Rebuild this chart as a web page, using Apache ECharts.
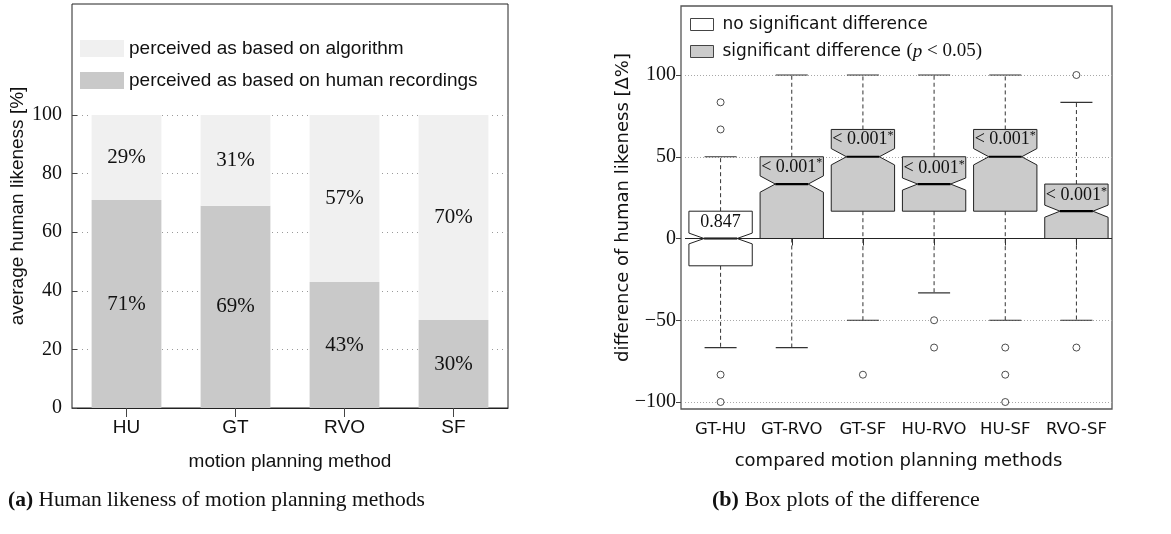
<!DOCTYPE html>
<html>
<head>
<meta charset="utf-8">
<script src="https://cdn.jsdelivr.net/npm/echarts@6/dist/echarts.min.js"></script>
<style>
  html, body { margin: 0; padding: 0; background: #fff; }
  #chart { width: 1171px; height: 534px; }
</style>
</head>
<body>
<div id="chart"></div>
<script>
// Panel (a): share of answers per motion planning method [%]
const methods = ['HU', 'GT', 'RVO', 'SF'];
const humanShare = [71, 69, 43, 30];
const algorithmShare = [29, 31, 57, 70];

// Panel (b): pairwise difference of human likeness [Δ%], box plot statistics
const pairs = ['GT-HU', 'GT-RVO', 'GT-SF', 'HU-RVO', 'HU-SF', 'RVO-SF'];
const whiskerLow = [-66.7, -66.7, -50, -33.3, -50, -50];
const lowerQuartile = [-16.7, 0, 16.7, 16.7, 16.7, 0];
const medians = [0, 33.3, 50, 33.3, 50, 16.7];
const upperQuartile = [16.7, 50, 66.7, 50, 66.7, 33.3];
const whiskerHigh = [50, 100, 100, 100, 100, 83.3];
const notchLow = [-3.3, 28.3, 45, 29.6, 45, 13];
const notchHigh = [3.3, 38.3, 55, 37, 55, 20.4];
const pValues = ['0.847', '< 0.001*', '< 0.001*', '< 0.001*', '< 0.001*', '< 0.001*'];
const significant = [false, true, true, true, true, true];
const outliers = [
  [0, 83.3], [0, 66.7], [0, -83.3], [0, -100],
  [2, -83.3],
  [3, -50], [3, -66.7],
  [4, -66.7], [4, -83.3], [4, -100],
  [5, 100], [5, -66.7]
];

const NAME_ALGO = 'perceived as based on algorithm';
const NAME_HUMAN = 'perceived as based on human recordings';
const NAME_NS = 'no significant difference';
const NAME_SIG = 'significant difference (p < 0.05)';

const SANS_A = 'Liberation Sans';
const SANS_B = 'DejaVu Sans';
const SERIF = 'Liberation Serif';
const INK = '#111';

function boxRows(flag) {
  const rows = [];
  pairs.forEach((p, i) => {
    if (significant[i] === flag) {
      rows.push([i, whiskerLow[i], lowerQuartile[i], medians[i], upperQuartile[i],
                 whiskerHigh[i], notchLow[i], notchHigh[i]]);
    }
  });
  return rows;
}

// Notched box with dashed whiskers and the p-value printed in the upper part
function renderBox(params, api) {
  const i = api.value(0);
  const x = api.coord([i, 0])[0];
  const band = api.size([1, 0])[0];
  const half = band * 0.445;
  const inset = half * 0.48;
  const capHalf = band * 0.225;
  const y = v => api.coord([i, v])[1];
  const yWl = y(api.value(1)), yQ1 = y(api.value(2)), yMed = y(api.value(3));
  const yQ3 = y(api.value(4)), yWh = y(api.value(5));
  const yNl = y(api.value(6)), yNh = y(api.value(7));
  const L = x - half, R = x + half;
  const fill = significant[i] ? '#cbcbcb' : '#ffffff';
  const dash = { stroke: '#333', lineWidth: 1, lineDash: [4, 3] };
  const solid = { stroke: '#333', lineWidth: 1.2 };
  const label = pValues[i];
  const star = label.endsWith('*');
  const txt = star ? '{m|' + label.slice(0, -1) + '}{s|*}' : '{m|' + label + '}';
  return {
    type: 'group',
    children: [
      { type: 'line', shape: { x1: x, y1: yQ3, x2: x, y2: yWh }, style: dash },
      { type: 'line', shape: { x1: x, y1: yQ1, x2: x, y2: yWl }, style: dash },
      { type: 'line', shape: { x1: x - capHalf, y1: yWh, x2: x + capHalf, y2: yWh }, style: solid },
      { type: 'line', shape: { x1: x - capHalf, y1: yWl, x2: x + capHalf, y2: yWl }, style: solid },
      {
        type: 'polygon',
        shape: { points: [
          [L, yQ3], [R, yQ3], [R, yNh], [R - inset, yMed], [R, yNl], [R, yQ1],
          [L, yQ1], [L, yNl], [L + inset, yMed], [L, yNh]
        ] },
        style: { fill: fill, stroke: '#222', lineWidth: 1 }
      },
      { type: 'line', shape: { x1: L + inset, y1: yMed, x2: R - inset, y2: yMed },
        style: { stroke: '#000', lineWidth: 2.2 } },
      {
        type: 'text',
        x: x, y: (yQ3 + yNh) / 2 + 0.5,
        style: {
          text: txt, align: 'center', verticalAlign: 'middle',
          rich: {
            m: { fontFamily: SERIF, fontSize: 18, fill: INK },
            s: { fontFamily: SERIF, fontSize: 12, fill: INK, verticalAlign: 'top', padding: [0, 0, 7, 0] }
          }
        }
      }
    ]
  };
}

const chart = echarts.init(document.getElementById('chart'), null, { renderer: 'canvas' });

chart.setOption({
  animation: false,
  backgroundColor: '#fff',
  title: [
    {
      text: '{b|(a)} Human likeness of motion planning methods',
      left: 3, top: 484,
      textStyle: {
        fontFamily: SERIF, fontSize: 21.5, fontWeight: 'normal', color: INK,
        rich: { b: { fontFamily: SERIF, fontSize: 21.5, fontWeight: 'bold', color: INK } }
      }
    },
    {
      text: '{b|(b)} Box plots of the difference',
      left: 707, top: 484,
      textStyle: {
        fontFamily: SERIF, fontSize: 22, fontWeight: 'normal', color: INK,
        rich: { b: { fontFamily: SERIF, fontSize: 22, fontWeight: 'bold', color: INK } }
      }
    }
  ],
  legend: [
    {
      orient: 'vertical', left: 75, top: 34,
      icon: 'rect', itemWidth: 44, itemHeight: 17, itemGap: 13,
      data: [NAME_ALGO, NAME_HUMAN],
      textStyle: { fontFamily: SANS_A, fontSize: 19, color: INK },
      selectedMode: false
    },
    {
      orient: 'vertical', left: 685, top: 11,
      icon: 'rect', itemWidth: 23, itemHeight: 12, itemGap: 9,
      data: [
        { name: NAME_NS, itemStyle: { color: '#fff', borderColor: '#444', borderWidth: 1 } },
        { name: NAME_SIG, itemStyle: { color: '#cbcbcb', borderColor: '#444', borderWidth: 1 } }
      ],
      formatter: n => n === NAME_SIG
        ? 'significant difference {m|(}{i|p}{m| < 0.05)}'
        : n,
      textStyle: {
        fontFamily: SANS_B, fontSize: 17, color: INK, padding: [0, 0, 0, 4],
        rich: {
          m: { fontFamily: SERIF, fontSize: 19, color: INK },
          i: { fontFamily: SERIF, fontSize: 19, fontStyle: 'italic', color: INK }
        }
      },
      selectedMode: false
    }
  ],
  grid: [
    // (a) frame
    { left: 72, top: 4, width: 436, height: 404, show: true, borderColor: '#222', borderWidth: 1, backgroundColor: 'transparent' },
    // (a) data area
    { left: 72, top: 115, width: 436, height: 293 },
    // (b) frame
    { left: 681, top: 6, width: 431, height: 403, show: true, borderColor: '#555', borderWidth: 1.3, backgroundColor: 'transparent' },
    // (b) data area
    { left: 685, top: 75, width: 427, height: 327 }
  ],
  xAxis: [
    {
      gridIndex: 0, type: 'category', data: methods, position: 'top',
      axisLine: { show: false },
      axisTick: { show: true, inside: true, alignWithLabel: true, length: 9, lineStyle: { color: '#444' } },
      axisLabel: { show: false }, splitLine: { show: false }
    },
    {
      gridIndex: 1, type: 'category', data: methods,
      axisLine: { show: true, lineStyle: { color: '#222', width: 1 } },
      axisTick: { show: false },
      axisLabel: { fontFamily: SANS_A, fontSize: 19, color: INK, margin: 10 },
      name: 'motion planning method', nameLocation: 'middle', nameGap: 44,
      nameTextStyle: { fontFamily: SANS_A, fontSize: 19, color: INK }
    },
    {
      gridIndex: 2, type: 'category', data: pairs,
      show: false
    },
    {
      gridIndex: 3, type: 'category', data: pairs, offset: 7,
      axisLine: { show: false },
      axisTick: { show: true, alignWithLabel: true, length: 7, lineStyle: { color: '#333' } },
      axisLabel: { fontFamily: SANS_B, fontSize: 16.5, color: INK, margin: 12, interval: 0 },
      name: 'compared motion planning methods', nameLocation: 'middle', nameGap: 43,
      nameTextStyle: { fontFamily: SANS_B, fontSize: 18, color: INK }
    }
  ],
  yAxis: [
    {
      gridIndex: 0, type: 'value', min: 0, max: 1,
      axisLine: { show: false }, axisTick: { show: false }, axisLabel: { show: false },
      splitLine: { show: false },
      name: 'average human likeness [%]', nameLocation: 'middle', nameGap: 45, nameRotate: 90,
      nameTextStyle: { fontFamily: SANS_A, fontSize: 19, color: INK }
    },
    {
      gridIndex: 1, type: 'value', min: 0, max: 100, interval: 20,
      axisLine: { show: false },
      axisTick: { show: true, inside: true, length: 5, lineStyle: { color: '#444' } },
      axisLabel: { fontFamily: SERIF, fontSize: 20, color: INK, margin: 10 },
      splitLine: { show: true, lineStyle: { color: '#9a9a9a', type: [1, 4], width: 1 } }
    },
    {
      gridIndex: 2, type: 'value', min: 0, max: 1,
      axisLine: { show: false }, axisTick: { show: false }, axisLabel: { show: false },
      splitLine: { show: false },
      name: 'difference of human likeness [Δ%]', nameLocation: 'middle', nameGap: 49, nameRotate: 90,
      nameTextStyle: { fontFamily: SANS_B, fontSize: 18, color: INK }
    },
    {
      gridIndex: 3, type: 'value', min: -100, max: 100, interval: 50, offset: 4,
      axisLine: { show: false },
      axisTick: { show: true, length: 5, lineStyle: { color: '#444' } },
      axisLabel: {
        fontFamily: SERIF, fontSize: 20, color: INK, margin: 5,
        formatter: v => (v < 0 ? '\u2212' + Math.abs(v) : String(v))
      },
      splitLine: { show: true, lineStyle: { color: '#a8a8a8', type: [1, 2], width: 1 } }
    }
  ],
  series: [
    {
      name: NAME_HUMAN, type: 'bar', stack: 'share',
      xAxisIndex: 1, yAxisIndex: 1, data: humanShare, barWidth: '64%',
      itemStyle: { color: '#c9c9c9' },
      label: { show: true, position: 'inside', formatter: '{c}%', fontFamily: SERIF, fontSize: 21, color: INK }
    },
    {
      name: NAME_ALGO, type: 'bar', stack: 'share',
      xAxisIndex: 1, yAxisIndex: 1, data: algorithmShare, barWidth: '64%',
      itemStyle: { color: '#f0f0f0' },
      label: { show: true, position: 'inside', formatter: '{c}%', fontFamily: SERIF, fontSize: 21, color: INK }
    },
    {
      name: NAME_NS, type: 'custom', xAxisIndex: 3, yAxisIndex: 3,
      renderItem: renderBox, data: boxRows(false),
      encode: { x: 0, y: [1, 5] },
      itemStyle: { color: '#ffffff' }, z: 3
    },
    {
      name: NAME_SIG, type: 'custom', xAxisIndex: 3, yAxisIndex: 3,
      renderItem: renderBox, data: boxRows(true),
      encode: { x: 0, y: [1, 5] },
      itemStyle: { color: '#cbcbcb' }, z: 3
    },
    {
      name: 'outliers', type: 'scatter', xAxisIndex: 3, yAxisIndex: 3,
      data: outliers, symbol: 'circle', symbolSize: 7,
      itemStyle: { color: '#fff', borderColor: '#222', borderWidth: 1 },
      z: 4,
      markLine: {
        silent: true, symbol: 'none', label: { show: false },
        lineStyle: { color: '#222', type: 'solid', width: 1.2 },
        data: [{ yAxis: 0 }]
      }
    }
  ]
});
</script>
</body>
</html>
